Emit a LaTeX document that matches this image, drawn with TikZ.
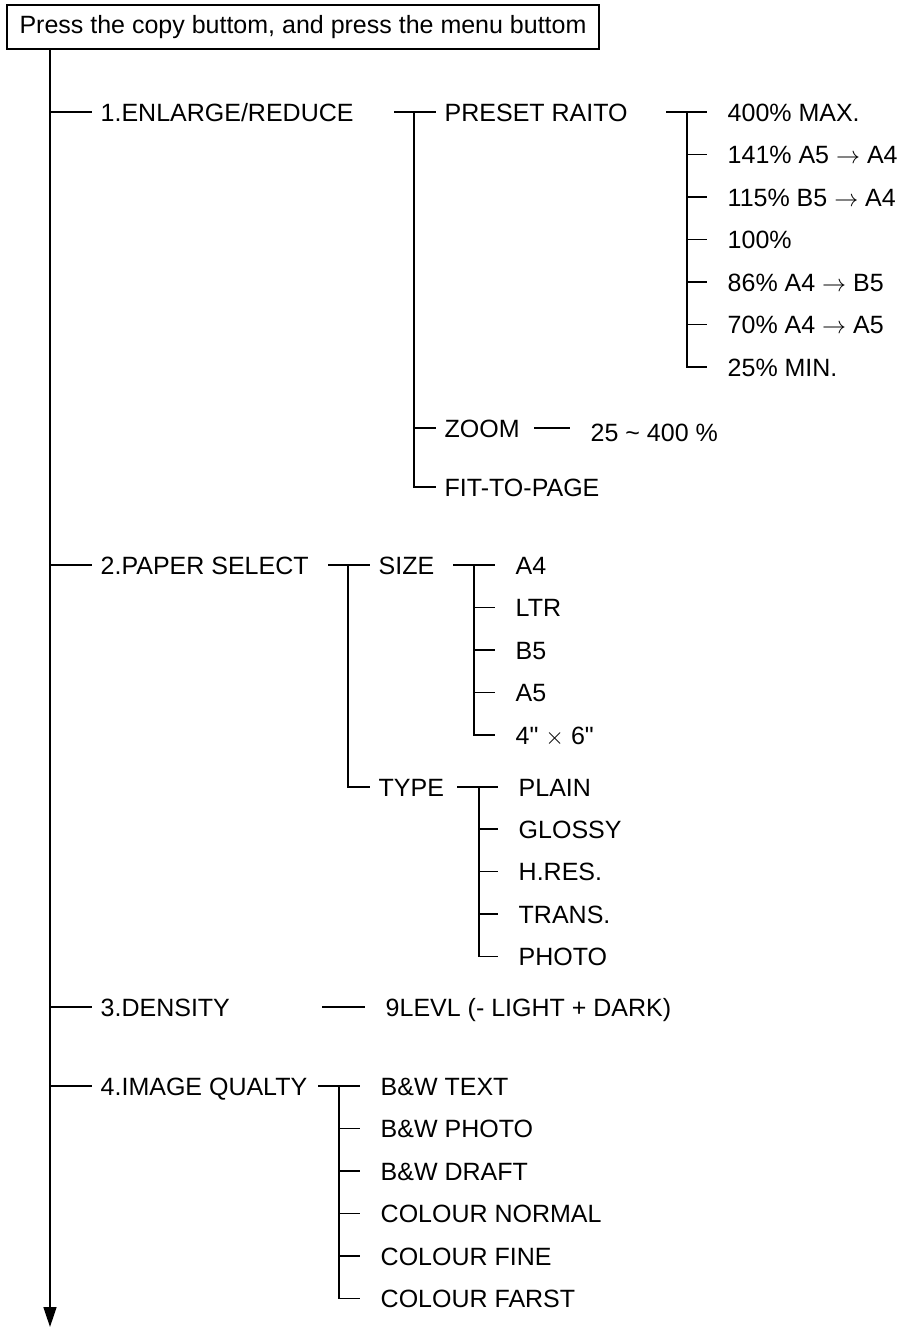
\documentclass[tikz,border=0pt]{standalone}
\usepackage{fontspec}
\setmainfont{Liberation Sans}
\usetikzlibrary{arrows.meta}
\tikzset{
  titlebox/.style={draw, minimum width=296pt, minimum height=22pt, inner sep=0pt,
                   font=\fontsize{12.5}{15}\selectfont},
  item/.style={anchor=west, inner xsep=4pt, inner ysep=0pt, text height=9pt,
               text depth=0pt, font=\fontsize{12.5}{15}\selectfont},
  leaf/.style={item, inner xsep=10pt},
  trunk/.style={-{Triangle[length=10pt,width=6.5pt]}}
}

\begin{document}
\begin{tikzpicture}[x=0.5pt, y=-0.5pt, line width=0.7pt]
  \useasboundingbox (0,0) rectangle (903,1328);
  \node[titlebox] (start) at (303,27) {Press the copy buttom, and press the menu buttom};
  \coordinate (trunkend) at (50,1327);

  % main menu
  \node[item] (enlarge) at (92,112) {1.ENLARGE/REDUCE};
  \node[item] (paper) at (92,565) {2.PAPER SELECT};
  \node[item] (density) at (92,1007) {3.DENSITY};
  \node[item] (quality) at (92,1086) {4.IMAGE QUALTY};

  % enlarge / reduce
  \coordinate (enfork) at (414,112);
  \node[item] (preset) at (436,112) {PRESET RAITO};
  \node[item] (zoom) at (436,428) {ZOOM};
  \node[item] (fit) at (436,487) {FIT-TO-PAGE};
  \node[leaf] (zrange) at (570,432) {25 \textasciitilde{} 400 \%};

  \coordinate (prfork) at (687,112);
  \node[leaf] (pmax) at (707,112) {400\% MAX.};
  \node[leaf] (p141) at (707,154.5) {141\% A5 $\rightarrow$ A4};
  \node[leaf] (p115) at (707,197) {115\% B5 $\rightarrow$ A4};
  \node[leaf] (p100) at (707,239.5) {100\%};
  \node[leaf] (p86) at (707,282) {86\% A4 $\rightarrow$ B5};
  \node[leaf] (p70) at (707,324.5) {70\% A4 $\rightarrow$ A5};
  \node[leaf] (pmin) at (707,367) {25\% MIN.};

  % paper select
  \coordinate (pafork) at (348,565);
  \node[item] (size) at (370,565) {SIZE};
  \node[item] (type) at (370,787) {TYPE};

  \coordinate (szfork) at (474,565);
  \node[leaf] (sa4) at (495,565) {A4};
  \node[leaf] (sltr) at (495,607.5) {LTR};
  \node[leaf] (sb5) at (495,650) {B5};
  \node[leaf] (sa5) at (495,692.5) {A5};
  \node[leaf] (s46) at (495,735) {4\textquotedbl{} $\times$ 6\textquotedbl};

  \coordinate (tyfork) at (479,787);
  \node[leaf] (tplain) at (498,787) {PLAIN};
  \node[leaf] (tglossy) at (498,829) {GLOSSY};
  \node[leaf] (thres) at (498,871.5) {H.RES.};
  \node[leaf] (ttrans) at (498,914) {TRANS.};
  \node[leaf] (tphoto) at (498,956.5) {PHOTO};

  % density
  \coordinate (dnstub) at (322,1007);
  \node[leaf] (levels) at (365,1007) {9LEVL (- LIGHT + DARK)};

  % image quality
  \coordinate (qufork) at (339,1086);
  \node[leaf] (qtext) at (360,1086) {B\&W TEXT};
  \node[leaf] (qphoto) at (360,1128.5) {B\&W PHOTO};
  \node[leaf] (qdraft) at (360,1171) {B\&W DRAFT};
  \node[leaf] (qnormal) at (360,1213.5) {COLOUR NORMAL};
  \node[leaf] (qfine) at (360,1256) {COLOUR FINE};
  \node[leaf] (qfast) at (360,1298.5) {COLOUR FARST};

  \draw[trunk] (start.south -| trunkend) -- (trunkend);
  \draw (trunkend |- enlarge.west) -- (enlarge.west)
        (trunkend |- paper.west) -- (paper.west)
        (trunkend |- density.west) -- (density.west)
        (trunkend |- quality.west) -- (quality.west);

  \draw (enfork) ++(-20,0) -- (preset.west);
  \draw (enfork) |- (fit.west);
  \draw (enfork |- zoom.west) -- (zoom.west);
  \draw (zoom.east) ++(6,0) -- (zoom.east -| zrange.west);

  \draw (prfork) ++(-21,0) -- (pmax.west);
  \draw (prfork) |- (pmin.west);
  \draw (prfork |- p141.west) -- (p141.west)
        (prfork |- p115.west) -- (p115.west)
        (prfork |- p100.west) -- (p100.west)
        (prfork |- p86.west) -- (p86.west)
        (prfork |- p70.west) -- (p70.west);

  \draw (pafork) ++(-20,0) -- (size.west);
  \draw (pafork) |- (type.west);

  \draw (szfork) ++(-21,0) -- (sa4.west);
  \draw (szfork) |- (s46.west);
  \draw (szfork |- sltr.west) -- (sltr.west)
        (szfork |- sb5.west) -- (sb5.west)
        (szfork |- sa5.west) -- (sa5.west);

  \draw (tyfork) ++(-22,0) -- (tplain.west);
  \draw (tyfork) |- (tphoto.west);
  \draw (tyfork |- tglossy.west) -- (tglossy.west)
        (tyfork |- thres.west) -- (thres.west)
        (tyfork |- ttrans.west) -- (ttrans.west);

  \draw (dnstub) -- (levels.west);

  \draw (qufork) ++(-21,0) -- (qtext.west);
  \draw (qufork) |- (qfast.west);
  \draw (qufork |- qphoto.west) -- (qphoto.west)
        (qufork |- qdraft.west) -- (qdraft.west)
        (qufork |- qnormal.west) -- (qnormal.west)
        (qufork |- qfine.west) -- (qfine.west);
\end{tikzpicture}
\end{document}
